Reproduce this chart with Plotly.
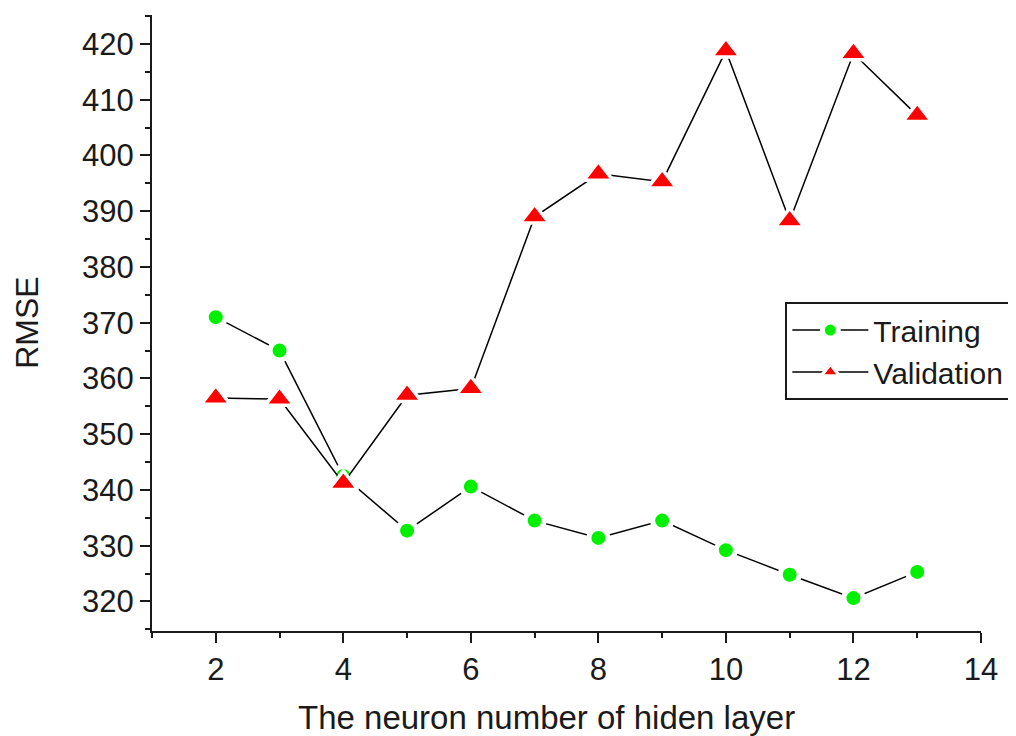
import plotly.graph_objects as go

neurons = [2, 3, 4, 5, 6, 7, 8, 9, 10, 11, 12, 13]
training = [371.0, 365.0, 342.5, 332.7, 340.6, 334.5, 331.4, 334.5, 329.2, 324.8, 320.6, 325.3]
validation = [356.5, 356.3, 341.2, 357.0, 358.2, 389.0, 396.7, 395.3, 418.8, 388.3, 418.3, 407.2]

x_title = "The neuron number of hiden layer"
y_title = "RMSE"

FONT = "Liberation Sans, Arial, sans-serif"
INK = "#1a1a1a"

fig = go.Figure()
fig.add_trace(go.Scatter(
    x=neurons, y=training, name="Training", mode="lines+markers",
    line=dict(color="black", width=1.5),
    marker=dict(symbol="circle", size=19, color="#00f000", line=dict(color="white", width=5)),
))
fig.add_trace(go.Scatter(
    x=neurons, y=validation, name="Validation", mode="lines+markers",
    line=dict(color="black", width=1.5),
    marker=dict(symbol="triangle-up", size=25, color="#ff0000", line=dict(color="white", width=3.5)),
))

axis_common = dict(
    showgrid=False, zeroline=False, showline=True, linecolor=INK, linewidth=2,
    ticks="outside", ticklen=10, tickwidth=2, tickcolor=INK, automargin=False,
    tickfont=dict(family=FONT, size=31, color=INK),
)

fig.update_layout(
    width=1000, height=728,
    margin=dict(l=144, r=27, t=7, b=105, autoexpand=False),
    paper_bgcolor="white", plot_bgcolor="white",
    font=dict(family=FONT, color=INK),
    xaxis=dict(range=[1, 14], dtick=2, tick0=0,
               minor=dict(dtick=1, tick0=0, ticks="outside", ticklen=5, tickwidth=2, tickcolor=INK),
               **axis_common),
    yaxis=dict(range=[314.7, 425.2], dtick=10, tick0=0,
               minor=dict(dtick=5, tick0=0, ticks="outside", ticklen=5, tickwidth=2, tickcolor=INK),
               **axis_common),
    legend=dict(x=0.764, y=0.534, xanchor="left", yanchor="top",
                bordercolor=INK, borderwidth=2, bgcolor="white",
                font=dict(family=FONT, size=30, color=INK),
                tracegroupgap=0, itemwidth=76),
    showlegend=True,
)

fig.add_annotation(text=x_title, xref="paper", yref="paper", x=0.476, y=-0.141,
                   xanchor="center", yanchor="middle", showarrow=False,
                   font=dict(family=FONT, size=33, color=INK))
fig.add_annotation(text=y_title, xref="paper", yref="paper", x=-0.151, y=0.5,
                   xanchor="center", yanchor="middle", showarrow=False, textangle=-90,
                   font=dict(family=FONT, size=32, color=INK))

fig.write_html("out.html")
